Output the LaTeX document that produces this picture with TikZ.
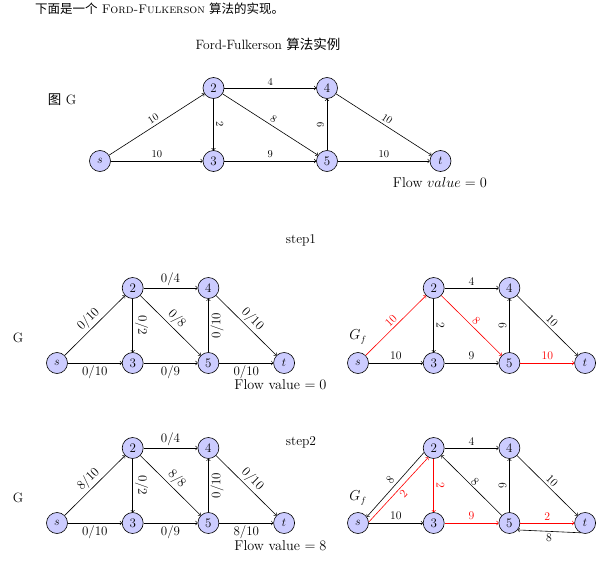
\documentclass[tikz,border=0pt]{standalone}
\usepackage{fontspec}
\newfontfamily\cjk{Noto Sans CJK SC}
\usetikzlibrary{arrows}
\newcommand\fgnodes[5]{%
 \node[vtx] (#1s) at (#2,#3) {$s$};
 \node[vtx] (#12) at ({#2+#4},{#3-#5}) {2};
 \node[vtx] (#13) at ({#2+#4},#3) {3};
 \node[vtx] (#14) at ({#2+2*#4},{#3-#5}) {4};
 \node[vtx] (#15) at ({#2+2*#4},#3) {5};
 \node[vtx] (#1t) at ({#2+3*#4},#3) {$t$};}
\begin{document}
\begin{tikzpicture}[x=1pt,y=-1pt,
 vtx/.style={circle,draw,line width=0.6pt,fill=blue!20,minimum size=21pt,inner sep=0pt,font=\fontsize{13}{13}\selectfont},
 arr/.style={->,>=to,line width=0.6pt},
 lbl/.style={font=\fontsize{10.5}{11}\selectfont,inner sep=2.5pt},
 lbl2/.style={font=\fontsize{11.7}{12}\selectfont,inner sep=2.5pt},
 lbl3/.style={font=\fontsize{13}{13}\selectfont,inner sep=2pt},
 txt/.style={font=\fontsize{13.5}{15}\selectfont,inner sep=0pt},
 flow/.style={font=\fontsize{14.2}{15}\selectfont,inner sep=0pt}]
\useasboundingbox (0,0) rectangle (606,562);
% titles
\node[inner sep=0pt,anchor=west,font=\fontsize{12.5}{14}\selectfont] (title) at (35,9) {{\cjk 下面是一个} \textsc{Ford-Fulkerson} {\cjk 算法的实现。}};
\node[txt] (sub) at (268,44) {Ford-Fulkerson {\cjk 算法实例}};
% ---------- top graph
\node[txt] (gA) at (62,100) {{\cjk 图} G};
\fgnodes{A}{100}{161}{113.5}{73}
\draw[arr] (As) -- node[lbl,sloped,above] {10} (A2);
\draw[arr] (As) -- node[lbl,above] {10} (A3);
\draw[arr] (A2) -- node[lbl,sloped,above] {2} (A3);
\draw[arr] (A2) -- node[lbl,above] {4} (A4);
\draw[arr] (A2) -- node[lbl,sloped,above] {8} (A5);
\draw[arr] (A3) -- node[lbl,above] {9} (A5);
\draw[arr] (A5) -- node[lbl,sloped,above] {9} (A4);
\draw[arr] (A4) -- node[lbl,sloped,above] {10} (At);
\draw[arr] (A5) -- node[lbl,above] {10} (At);
\node[flow] (fvA) at (440,183) {Flow $value=0$};
% ---------- step1
\node[txt] (st1) at (301,240) {step1};
\node[txt] (gB) at (18,338) {G};
\fgnodes{B}{57}{363}{75.7}{75}
\draw[arr] (Bs) -- node[lbl3,sloped,above] {0/10} (B2);
\draw[arr] (Bs) -- node[lbl3,below] {0/10} (B3);
\draw[arr] (B2) -- node[lbl3,sloped,above] {0/2} (B3);
\draw[arr] (B2) -- node[lbl3,above] {0/4} (B4);
\draw[arr] (B2) -- node[lbl3,sloped,above] {0/8} (B5);
\draw[arr] (B3) -- node[lbl3,below] {0/9} (B5);
\draw[arr] (B5) -- node[lbl3,sloped,below] {0/10} (B4);
\draw[arr] (B4) -- node[lbl3,sloped,above] {0/10} (Bt);
\draw[arr] (B5) -- node[lbl3,below] {0/10} (Bt);
\node[flow] (fvB) at (280.5,385) {Flow value $=0$};
\node[txt] (gfC) at (358,337) {$G_f$};
\fgnodes{C}{358}{363}{75.7}{75}
\draw[arr,red] (Cs) -- node[lbl2,sloped,above] {10} (C2);
\draw[arr] (Cs) -- node[lbl2,above] {10} (C3);
\draw[arr] (C2) -- node[lbl2,sloped,above] {2} (C3);
\draw[arr] (C2) -- node[lbl2,above] {4} (C4);
\draw[arr,red] (C2) -- node[lbl2,sloped,above] {8} (C5);
\draw[arr] (C3) -- node[lbl2,above] {9} (C5);
\draw[arr] (C5) -- node[lbl2,sloped,above] {9} (C4);
\draw[arr] (C4) -- node[lbl2,sloped,above] {10} (Ct);
\draw[arr,red] (C5) -- node[lbl2,above] {10} (Ct);
% ---------- step2
\node[txt] (st2) at (301,442) {step2};
\node[txt] (gD) at (18,498) {G};
\fgnodes{D}{57}{523}{75.7}{75}
\draw[arr] (Ds) -- node[lbl3,sloped,above] {8/10} (D2);
\draw[arr] (Ds) -- node[lbl3,below] {0/10} (D3);
\draw[arr] (D2) -- node[lbl3,sloped,above] {0/2} (D3);
\draw[arr] (D2) -- node[lbl3,above] {0/4} (D4);
\draw[arr] (D2) -- node[lbl3,sloped,above] {8/8} (D5);
\draw[arr] (D3) -- node[lbl3,below] {0/9} (D5);
\draw[arr] (D5) -- node[lbl3,sloped,below] {0/10} (D4);
\draw[arr] (D4) -- node[lbl3,sloped,above] {0/10} (Dt);
\draw[arr] (D5) -- node[lbl3,below] {8/10} (Dt);
\node[flow] (fvD) at (280.5,546) {Flow value $=8$};
\node[txt] (gfE) at (358,498) {$G_f$};
\fgnodes{E}{358}{523}{75.7}{75}
\draw[arr] (E2.205) -- node[lbl2,sloped,above] {8} (Es.35);
\draw[arr,red] (Es.5) -- node[lbl2,sloped,below] {2} (E2.240);
\draw[arr] (Es) -- node[lbl2,above] {10} (E3);
\draw[arr,red] (E2) -- node[lbl2,sloped,above] {2} (E3);
\draw[arr] (E2) -- node[lbl2,above] {4} (E4);
\draw[arr,red] (E3) -- node[lbl2,above] {9} (E5);
\draw[arr] (E5) -- node[lbl2,sloped,above,inner sep=0.5pt] {8} (E2);
\draw[arr] (E5) -- node[lbl2,sloped,above] {9} (E4);
\draw[arr] (E4) -- node[lbl2,sloped,above] {10} (Et);
\draw[arr,red] (E5) -- node[lbl2,above] {2} (Et);
\draw[arr] (Et.245) -- node[lbl2,below] {8} (E5.-40);
\end{tikzpicture}
\end{document}
